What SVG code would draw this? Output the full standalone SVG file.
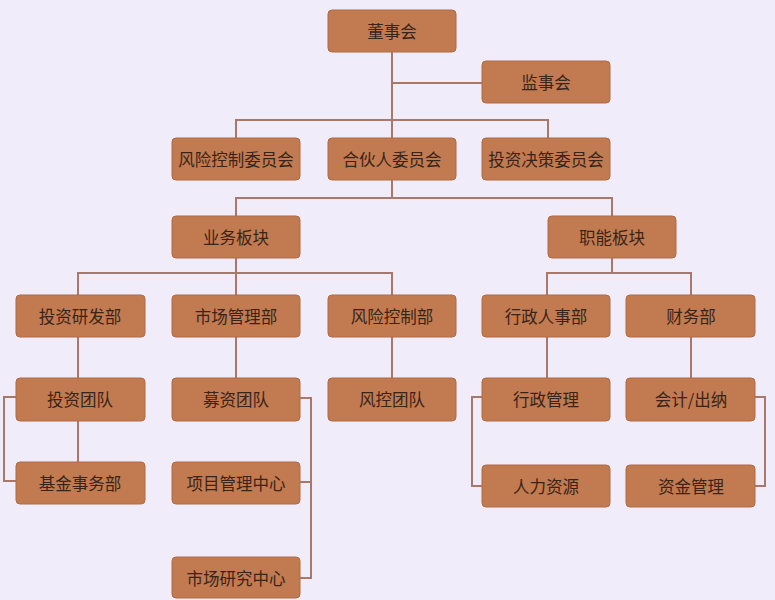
<svg xmlns="http://www.w3.org/2000/svg" width="775" height="600" viewBox="0 0 775 600">
<style>
.n rect{fill:#C27A50;stroke:#B06A44;stroke-width:1}
.n text{font-family:"Noto Sans CJK SC","Noto Sans",sans-serif;font-size:16.5px;fill:#3A2418;text-anchor:middle;dominant-baseline:central}
#edges path{fill:none;stroke:#A8786A;stroke-width:2}
</style>
<rect width="775" height="600" fill="#F1ECFA"/>
<g id="edges">
<path d="M392 52V198M392 83H482M236 138V120H548V138M236 216V198H612V216"/>
<path d="M236 258V273M78 295V273H392V295M236 273V295"/>
<path d="M612 258V273M547 295V273H691V295"/>
<path d="M78 337V378M236 337V378M392 337V378M547 337V378M691 337V378M78 421V462"/>
<path d="M16 397H4V481H16"/>
<path d="M300 398H311V578H300M300 482H311"/>
<path d="M482 397H472V486H482"/>
<path d="M755 397H765V486H755"/>
</g>
<g id="n1" class="n"><rect x="328" y="10" width="128" height="42" rx="4"/><text x="392" y="31">董事会</text></g>
<g id="n2" class="n"><rect x="482" y="61" width="128" height="42" rx="4"/><text x="546" y="82">监事会</text></g>
<g id="n3" class="n"><rect x="172" y="138" width="128" height="42" rx="4"/><text x="236" y="159">风险控制委员会</text></g>
<g id="n4" class="n"><rect x="328" y="138" width="128" height="42" rx="4"/><text x="392" y="159">合伙人委员会</text></g>
<g id="n5" class="n"><rect x="482" y="138" width="128" height="42" rx="4"/><text x="546" y="159">投资决策委员会</text></g>
<g id="n6" class="n"><rect x="172" y="216" width="128" height="42" rx="4"/><text x="236" y="237">业务板块</text></g>
<g id="n7" class="n"><rect x="548" y="216" width="128" height="42" rx="4"/><text x="612" y="237">职能板块</text></g>
<g id="n8" class="n"><rect x="16" y="295" width="129" height="42" rx="4"/><text x="80" y="316">投资研发部</text></g>
<g id="n9" class="n"><rect x="172" y="295" width="128" height="42" rx="4"/><text x="236" y="316">市场管理部</text></g>
<g id="n10" class="n"><rect x="328" y="295" width="128" height="42" rx="4"/><text x="392" y="316">风险控制部</text></g>
<g id="n11" class="n"><rect x="482" y="295" width="128" height="42" rx="4"/><text x="546" y="316">行政人事部</text></g>
<g id="n12" class="n"><rect x="626" y="295" width="129" height="42" rx="4"/><text x="691" y="316">财务部</text></g>
<g id="n13" class="n"><rect x="16" y="378" width="129" height="43" rx="4"/><text x="80" y="399">投资团队</text></g>
<g id="n14" class="n"><rect x="172" y="378" width="128" height="43" rx="4"/><text x="236" y="399">募资团队</text></g>
<g id="n15" class="n"><rect x="328" y="378" width="128" height="43" rx="4"/><text x="392" y="399">风控团队</text></g>
<g id="n16" class="n"><rect x="482" y="378" width="128" height="43" rx="4"/><text x="546" y="399">行政管理</text></g>
<g id="n17" class="n"><rect x="626" y="378" width="129" height="43" rx="4"/><text x="691" y="399">会计/出纳</text></g>
<g id="n18" class="n"><rect x="16" y="462" width="129" height="42" rx="4"/><text x="80" y="483">基金事务部</text></g>
<g id="n19" class="n"><rect x="172" y="462" width="128" height="42" rx="4"/><text x="236" y="483">项目管理中心</text></g>
<g id="n20" class="n"><rect x="482" y="465" width="128" height="42" rx="4"/><text x="546" y="486">人力资源</text></g>
<g id="n21" class="n"><rect x="626" y="465" width="129" height="42" rx="4"/><text x="691" y="486">资金管理</text></g>
<g id="n22" class="n"><rect x="172" y="557" width="128" height="41" rx="4"/><text x="236" y="578">市场研究中心</text></g>
</svg>
